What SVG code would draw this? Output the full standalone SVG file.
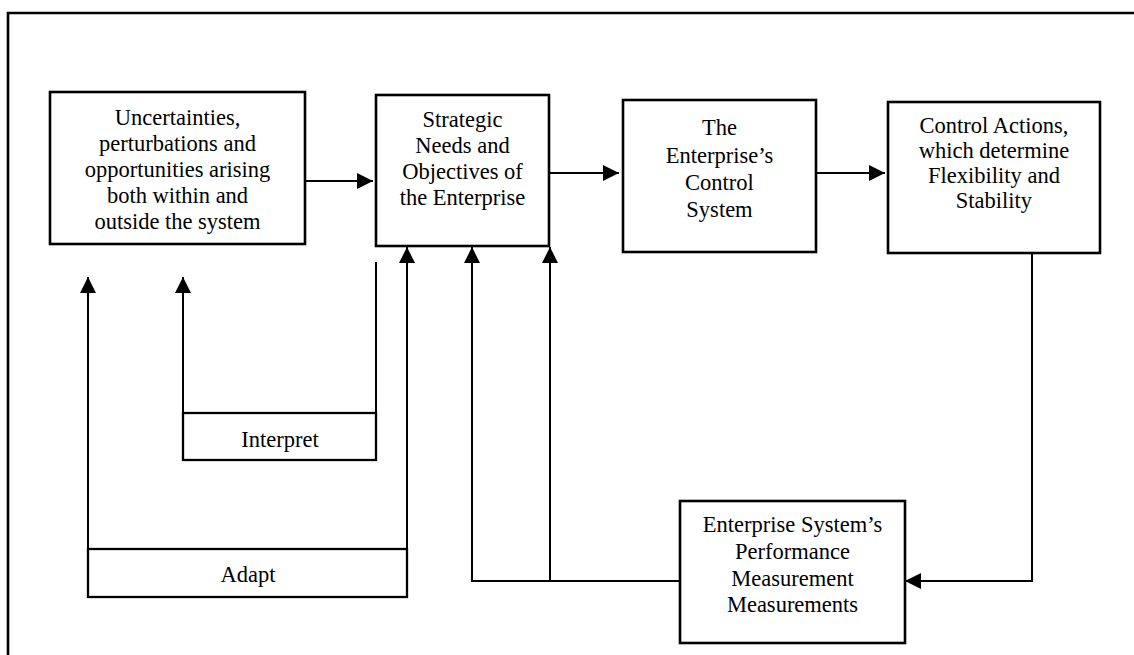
<svg xmlns="http://www.w3.org/2000/svg" width="1134" height="655" viewBox="0 0 1134 655">
  <defs>
    <style>
      .box { fill: #fff; stroke: #000; stroke-width: 2.6; }
      .lbox { fill: none; stroke: #000; stroke-width: 2.3; }
      .line { fill: none; stroke: #000; stroke-width: 2; }
      .frame { fill: none; stroke: #000; stroke-width: 2.6; }
      text { font-family: "Liberation Serif", "Times New Roman", serif; font-size: 22.5px; fill: #000; text-anchor: middle; }
    </style>
    <marker id="arrow" markerUnits="userSpaceOnUse" markerWidth="17" markerHeight="16" refX="16" refY="8" orient="auto">
      <path d="M0,0 L16,8 L0,16 Z" fill="#000"/>
    </marker>
  </defs>
  <rect width="1134" height="655" fill="#fff"/>
  <polyline class="frame" points="8,655 8,13 1134,13"/>

  <g id="connectors">
    <line class="line" x1="305" y1="181" x2="373" y2="181" marker-end="url(#arrow)"/>
    <line class="line" x1="549" y1="173" x2="619" y2="173" marker-end="url(#arrow)"/>
    <line class="line" x1="816" y1="173" x2="885" y2="173" marker-end="url(#arrow)"/>
    <line class="line" x1="183" y1="413" x2="183" y2="277" marker-end="url(#arrow)"/>
    <line class="line" x1="376" y1="262" x2="376" y2="413"/>
    <line class="line" x1="88" y1="549" x2="88" y2="277" marker-end="url(#arrow)"/>
    <line class="line" x1="407" y1="549" x2="407" y2="247" marker-end="url(#arrow)"/>
    <polyline class="line" points="1032,253 1032,581 905,581" marker-end="url(#arrow)"/>
    <polyline class="line" points="680,581 472,581 472,247" marker-end="url(#arrow)"/>
    <line class="line" x1="550" y1="581" x2="550" y2="247" marker-end="url(#arrow)"/>
  </g>

  <g id="uncertainties">
    <rect class="box" x="50" y="92" width="255" height="152"/>
    <text x="177.5" y="125">Uncertainties,</text>
    <text x="177.5" y="151">perturbations and</text>
    <text x="177.5" y="177">opportunities arising</text>
    <text x="177.5" y="203">both within and</text>
    <text x="177.5" y="229">outside the system</text>
  </g>

  <g id="strategic">
    <rect class="box" x="376" y="95" width="173" height="151"/>
    <text x="462.5" y="127">Strategic</text>
    <text x="462.5" y="153">Needs and</text>
    <text x="462.5" y="179">Objectives of</text>
    <text x="462.5" y="205">the Enterprise</text>
  </g>

  <g id="control-system">
    <rect class="box" x="623" y="100" width="193" height="152"/>
    <text x="719.5" y="135">The</text>
    <text x="719.5" y="163">Enterprise’s</text>
    <text x="719.5" y="190">Control</text>
    <text x="719.5" y="217">System</text>
  </g>

  <g id="control-actions">
    <rect class="box" x="888" y="102" width="212" height="151"/>
    <text x="994" y="133">Control Actions,</text>
    <text x="994" y="158">which determine</text>
    <text x="994" y="183">Flexibility and</text>
    <text x="994" y="208">Stability</text>
  </g>

  <g id="performance">
    <rect class="box" x="680" y="501" width="225" height="142"/>
    <text x="792.5" y="532">Enterprise System’s</text>
    <text x="792.5" y="559">Performance</text>
    <text x="792.5" y="586">Measurement</text>
    <text x="792.5" y="612">Measurements</text>
  </g>

  <g id="interpret">
    <rect class="lbox" x="183" y="413" width="193" height="47"/>
    <text x="280" y="447">Interpret</text>
  </g>

  <g id="adapt">
    <rect class="lbox" x="88" y="549" width="319" height="48"/>
    <text x="248" y="582">Adapt</text>
  </g>
</svg>
